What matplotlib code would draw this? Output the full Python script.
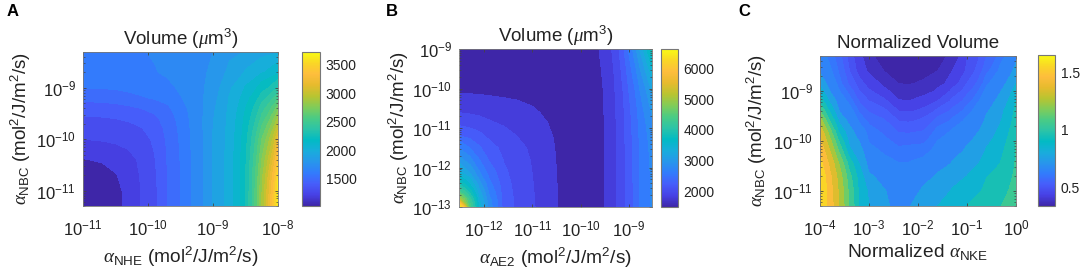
import numpy as np
import matplotlib
matplotlib.use("Agg")
import matplotlib.pyplot as plt
from matplotlib.colors import LinearSegmentedColormap, Normalize
from matplotlib.cm import ScalarMappable

plt.rcParams['font.family'] = ['Liberation Sans', 'DejaVu Sans']
plt.rcParams['mathtext.fontset'] = 'custom'
plt.rcParams['mathtext.rm'] = 'Liberation Sans'
plt.rcParams['mathtext.it'] = 'Liberation Serif:italic'
plt.rcParams['mathtext.default'] = 'regular'

W, H = 1084, 276

# Panel A: log10 of the rates, volumes read per x column (bottom to top)
a_x = [-11, -10.7, -10.5, -10.3, -10.1, -9.9, -9.7, -9.5, -9.3, -9, -8.75, -8.5, -8.25, -8.1, -8]
a_y = [-11.3, -11, -10.7, -10.4, -10.2, -10, -9.8, -9.6, -9.4, -9.2, -9, -8.7, -8.3]
a_z = [
    [1080, 1090, 1130, 1195, 1250, 1300, 1345, 1385, 1450, 1530, 1600, 1640, 1670],
    [1120, 1125, 1160, 1215, 1265, 1310, 1350, 1392, 1455, 1540, 1605, 1652, 1672],
    [1165, 1170, 1195, 1240, 1280, 1320, 1358, 1400, 1465, 1550, 1612, 1660, 1678],
    [1235, 1237, 1245, 1268, 1300, 1335, 1370, 1415, 1480, 1570, 1625, 1670, 1685],
    [1305, 1306, 1312, 1325, 1340, 1365, 1395, 1435, 1500, 1590, 1640, 1680, 1695],
    [1380, 1380, 1385, 1395, 1405, 1420, 1445, 1480, 1530, 1610, 1660, 1695, 1710],
    [1500, 1500, 1502, 1507, 1512, 1520, 1532, 1548, 1580, 1640, 1680, 1715, 1730],
    [1600, 1600, 1602, 1605, 1610, 1615, 1625, 1640, 1665, 1695, 1715, 1735, 1750],
    [1720, 1720, 1722, 1725, 1727, 1730, 1733, 1737, 1740, 1745, 1750, 1760, 1770],
    [1905, 1905, 1905, 1905, 1903, 1902, 1900, 1895, 1885, 1870, 1855, 1825, 1800],
    [2050, 2050, 2050, 2050, 2045, 2040, 2035, 2030, 2020, 2005, 1985, 1930, 1860],
    [2300, 2300, 2295, 2285, 2275, 2265, 2250, 2230, 2200, 2160, 2110, 2010, 1910],
    [2900, 2890, 2860, 2800, 2750, 2700, 2620, 2530, 2450, 2350, 2250, 2090, 1950],
    [3350, 3320, 3250, 3130, 3040, 2960, 2850, 2730, 2610, 2470, 2330, 2130, 1970],
    [3700, 3660, 3580, 3450, 3340, 3230, 3080, 2930, 2760, 2580, 2400, 2170, 1985],
]
a_levels = [1020] + list(range(1200, 3800, 100)) + [3720]

# Panel B
b_x = [-12.5, -12.3, -12.1, -11.9, -11.6, -11.3, -11, -10.7, -10.4, -10, -9.6, -9.3, -9, -8.75, -8.5]
b_y = [-13, -12.8, -12.6, -12.4, -12.1, -11.8, -11.5, -11.2, -10.9, -10.6, -10.1, -9.5, -9]
b_z = [
    [6600, 5100, 4400, 3900, 3400, 3050, 2750, 2400, 2150, 1990, 1790, 1600, 1500],
    [4500, 4300, 3900, 3550, 3150, 2850, 2600, 2320, 2120, 1970, 1780, 1600, 1500],
    [3500, 3400, 3250, 3050, 2800, 2600, 2420, 2250, 2080, 1950, 1770, 1595, 1500],
    [2900, 2850, 2750, 2650, 2500, 2380, 2270, 2150, 2030, 1920, 1760, 1590, 1500],
    [2320, 2310, 2290, 2270, 2230, 2190, 2140, 2070, 1980, 1890, 1745, 1585, 1500],
    [2130, 2125, 2120, 2110, 2095, 2070, 2040, 1990, 1930, 1860, 1730, 1580, 1500],
    [2020, 2015, 2010, 2005, 1995, 1980, 1960, 1930, 1880, 1820, 1715, 1575, 1500],
    [1870, 1870, 1870, 1865, 1860, 1855, 1845, 1830, 1805, 1770, 1690, 1570, 1500],
    [1760, 1760, 1760, 1760, 1755, 1750, 1745, 1735, 1720, 1700, 1650, 1560, 1500],
    [1600, 1600, 1600, 1600, 1600, 1595, 1590, 1585, 1580, 1575, 1550, 1520, 1490],
    [1750, 1750, 1750, 1750, 1750, 1750, 1750, 1750, 1750, 1755, 1760, 1785, 1830],
    [1960, 1960, 1960, 1960, 1960, 1960, 1960, 1965, 1970, 1975, 1990, 2020, 2060],
    [2310, 2310, 2310, 2310, 2315, 2320, 2325, 2330, 2340, 2355, 2400, 2520, 2650],
    [2640, 2640, 2640, 2640, 2645, 2650, 2660, 2675, 2700, 2730, 2830, 3050, 3300],
    [2850, 2850, 2855, 2860, 2870, 2885, 2905, 2940, 2990, 3070, 3250, 3650, 4050],
]
b_levels = [1480] + list(range(1800, 6600, 200)) + [6630]

# Panel C
c_x = [-4, -3.8, -3.6, -3.4, -3.2, -3, -2.7, -2.4, -2.2, -1.9, -1.6, -1.3, -1, -0.6, -0.3, 0]
c_y = [-11.3, -11, -10.7, -10.45, -10.2, -10, -9.8, -9.6, -9.4, -9.2, -9, -8.85, -8.6, -8.3]
c_z = [
    [1.65, 1.65, 1.63, 1.58, 1.52, 1.47, 1.41, 1.30, 1.15, 1.00, 0.89, 0.82, 0.73, 0.68],
    [1.50, 1.49, 1.47, 1.42, 1.35, 1.28, 1.18, 1.05, 0.93, 0.83, 0.75, 0.70, 0.66, 0.63],
    [1.33, 1.32, 1.29, 1.23, 1.12, 1.02, 0.91, 0.82, 0.74, 0.69, 0.65, 0.62, 0.60, 0.58],
    [1.13, 1.12, 1.08, 1.00, 0.87, 0.82, 0.78, 0.72, 0.675, 0.63, 0.59, 0.56, 0.53, 0.51],
    [0.94, 0.93, 0.90, 0.85, 0.79, 0.745, 0.69, 0.64, 0.60, 0.565, 0.53, 0.505, 0.47, 0.455],
    [0.85, 0.83, 0.76, 0.71, 0.67, 0.645, 0.625, 0.60, 0.565, 0.53, 0.495, 0.47, 0.43, 0.395],
    [0.765, 0.755, 0.72, 0.67, 0.64, 0.62, 0.60, 0.575, 0.54, 0.50, 0.455, 0.425, 0.38, 0.34],
    [0.72, 0.71, 0.69, 0.652, 0.62, 0.595, 0.565, 0.53, 0.49, 0.445, 0.405, 0.38, 0.345, 0.315],
    [0.745, 0.725, 0.69, 0.652, 0.625, 0.595, 0.56, 0.525, 0.485, 0.44, 0.40, 0.375, 0.34, 0.31],
    [0.79, 0.76, 0.72, 0.665, 0.63, 0.60, 0.57, 0.54, 0.50, 0.46, 0.415, 0.39, 0.35, 0.32],
    [0.85, 0.80, 0.76, 0.71, 0.675, 0.65, 0.625, 0.585, 0.54, 0.49, 0.45, 0.42, 0.38, 0.345],
    [0.90, 0.86, 0.79, 0.755, 0.72, 0.69, 0.655, 0.62, 0.58, 0.54, 0.50, 0.47, 0.44, 0.41],
    [0.95, 0.905, 0.85, 0.80, 0.765, 0.735, 0.70, 0.665, 0.63, 0.59, 0.555, 0.53, 0.50, 0.485],
    [1.00, 0.975, 0.945, 0.90, 0.86, 0.83, 0.80, 0.77, 0.74, 0.71, 0.67, 0.64, 0.60, 0.57],
    [1.05, 1.03, 1.00, 0.955, 0.935, 0.91, 0.88, 0.85, 0.83, 0.79, 0.75, 0.72, 0.67, 0.63],
    [1.08, 1.08, 1.07, 1.06, 1.06, 1.05, 1.03, 1.00, 0.98, 0.95, 0.90, 0.85, 0.78, 0.72],
]
c_levels = [0.3, 0.38, 0.44, 0.49, 0.53, 0.57, 0.61, 0.65, 0.75, 0.85, 0.95, 1.05,
            1.15, 1.25, 1.35, 1.45, 1.55, 1.65, 1.66]

# parula colours
parula = LinearSegmentedColormap.from_list("parula", [
    (0.2422, 0.1504, 0.6603), (0.2783, 0.2559, 0.8991), (0.2760, 0.3667, 0.9829),
    (0.1963, 0.4847, 0.9892), (0.1540, 0.5902, 0.9218), (0.0952, 0.6798, 0.8598),
    (0.0067, 0.7312, 0.7660), (0.1717, 0.7670, 0.6554), (0.2906, 0.7973, 0.5188),
    (0.5044, 0.7993, 0.3480), (0.7242, 0.7698, 0.1910), (0.9035, 0.7330, 0.1774),
    (0.9956, 0.7434, 0.2371), (0.9786, 0.8405, 0.1510), (0.9769, 0.9839, 0.0805),
])


def px_axes(fig, left, top, right, bottom):
    """Axes from pixel edges of the picture."""
    return fig.add_axes([left / W, 1 - bottom / H, (right - left) / W, (bottom - top) / H])


def draw_panel(fig, letter, letter_x, rect, cbar_rect, xs, ys, zs, levels, zrange, xlim, ylim,
               xticks, yticks, cticks, clabels, title, xlabel, ylabel, title_y, xlabel_y, ylabel_x):
    ax = px_axes(fig, *rect)
    norm = Normalize(*zrange)
    # each band takes the colour of its lower level
    band_colors = [parula(norm(v)) for v in levels[:-1]]
    ax.contourf(10.0 ** np.array(xs), 10.0 ** np.array(ys), np.array(zs).T,
                levels=levels, colors=band_colors)
    ax.set_xscale('log')
    ax.set_yscale('log')
    ax.set_xlim(xlim)
    ax.set_ylim(ylim)
    ax.set_xticks(xticks)
    ax.set_yticks(yticks)
    ax.tick_params(which='major', direction='in', top=True, right=True, length=2.5, width=0.6,
                   color='#444444', labelsize=12, labelcolor='#222222')
    ax.tick_params(axis='x', which='major', pad=9)
    ax.tick_params(axis='y', which='major', pad=5)
    ax.tick_params(which='minor', direction='in', top=True, right=True, length=1.3, width=0.5,
                   color='#444444')
    for spine in ax.spines.values():
        spine.set_color('#777777')
        spine.set_linewidth(0.6)

    cax = px_axes(fig, *cbar_rect)
    cb = fig.colorbar(ScalarMappable(norm=norm, cmap=parula), cax=cax)
    cb.set_ticks(cticks)
    cb.set_ticklabels(clabels)
    cb.ax.tick_params(length=0, labelsize=10, labelcolor='#222222', pad=4)
    cb.outline.set_edgecolor('#777777')
    cb.outline.set_linewidth(0.8)

    mid = (rect[0] + rect[2]) / 2
    fig.text(mid / W, 1 - title_y / H, title, fontsize=13.5, ha='center', va='center', color='#222222')
    fig.text(mid / W, 1 - xlabel_y / H, xlabel, fontsize=13.8, ha='center', va='center', color='#222222')
    fig.text(ylabel_x / W, 1 - (rect[1] + rect[3]) / 2 / H, ylabel, fontsize=13.5, rotation=90,
             ha='center', va='center', color='#222222')
    fig.text(letter_x / W, 1 - 12 / H, letter, fontsize=12, fontweight='bold', ha='left', va='center')


def main():
    fig = plt.figure(figsize=(W / 100, H / 100), dpi=100)
    rate_unit = r'(mol$^{2}$/J/m$^{2}$/s)'

    draw_panel(fig, 'A', 7, (83, 52, 278, 206), (302, 52, 320, 206), a_x, a_y, a_z, a_levels, (1020, 3720),
               (1e-11, 1e-8), (5e-12, 5e-9), [1e-11, 1e-10, 1e-9, 1e-8], [1e-11, 1e-10, 1e-9],
               [1500, 2000, 2500, 3000, 3500], ['1500', '2000', '2500', '3000', '3500'],
               r'Volume ($\mathit{\mu}$m$^{3}$)', r'$\mathit{\alpha}_{NHE}$ ' + rate_unit,
               r'$\mathit{\alpha}_{NBC}$ ' + rate_unit, 39, 257, 21)

    draw_panel(fig, 'B', 386, (459, 49, 652, 207), (661, 49, 678, 207), b_x, b_y, b_z, b_levels, (1480, 6630),
               (3e-13, 3e-9), (1e-13, 1e-9), [1e-12, 1e-11, 1e-10, 1e-9],
               [1e-13, 1e-12, 1e-11, 1e-10, 1e-9],
               [2000, 3000, 4000, 5000, 6000], ['2000', '3000', '4000', '5000', '6000'],
               r'Volume ($\mathit{\mu}$m$^{3}$)', r'$\mathit{\alpha}_{AE2}$ ' + rate_unit,
               r'$\mathit{\alpha}_{NBC}$ ' + rate_unit, 36, 258, 399)

    draw_panel(fig, 'C', 738, (820, 56, 1016, 206), (1038, 55, 1055, 206), c_x, c_y, c_z, c_levels, (0.34, 1.65),
               (1e-4, 1), (5e-12, 5e-9), [1e-4, 1e-3, 1e-2, 1e-1, 1], [1e-11, 1e-10, 1e-9],
               [0.5, 1, 1.5], ['0.5', '1', '1.5'],
               'Normalized Volume', r'Normalized $\mathit{\alpha}_{NKE}$',
               r'$\mathit{\alpha}_{NBC}$ ' + rate_unit, 43, 252, 757)

    fig.savefig('out.png', dpi=100)


if __name__ == "__main__":
    main()
